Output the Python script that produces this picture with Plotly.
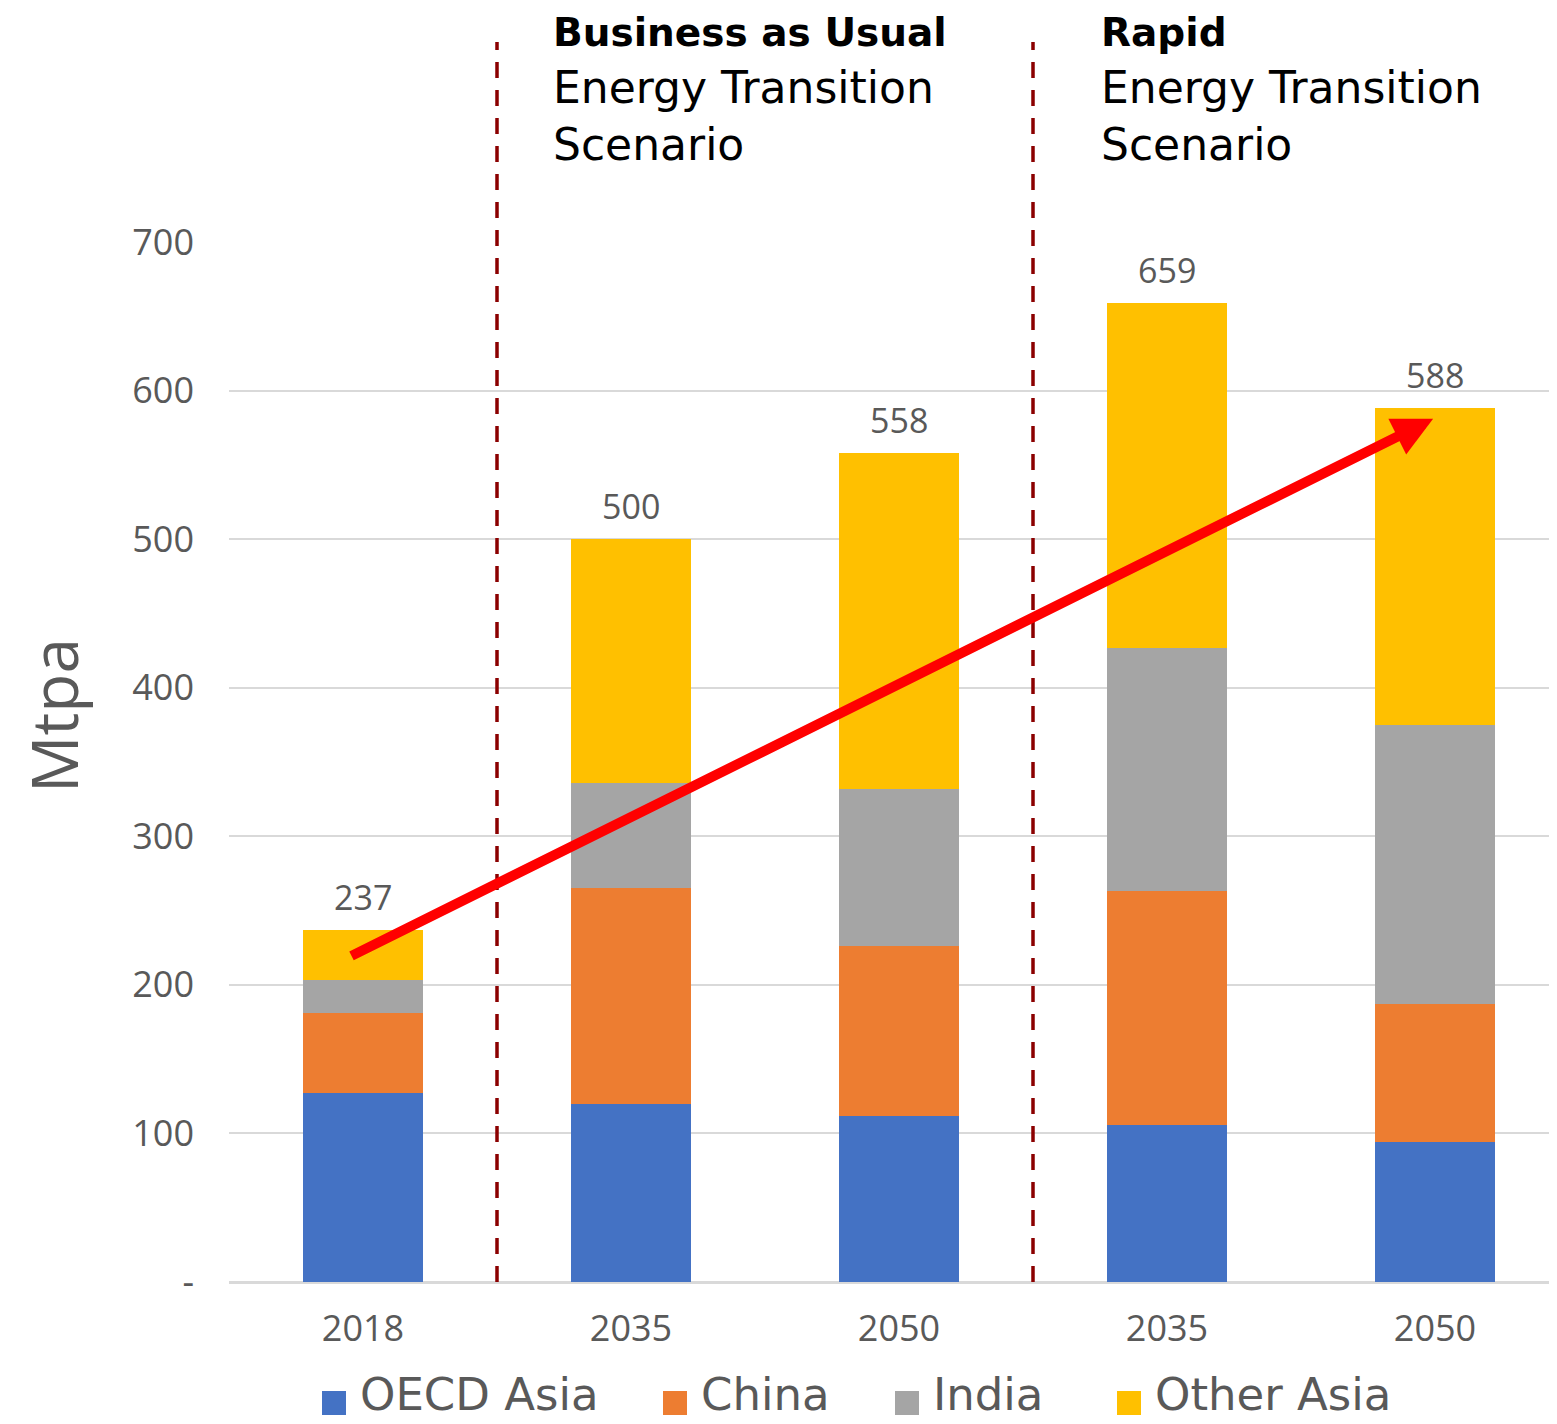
import plotly.graph_objects as go

# ---- data ----
categories = ["2018", "2035", "2050", "2035", "2050"]
oecd_asia = [127, 120, 112, 106, 94]
china = [54, 145, 114, 157, 93]
india = [22, 71, 106, 164, 188]
other_asia = [34, 164, 226, 232, 213]
totals = [237, 500, 558, 659, 588]
series_names = ["OECD Asia", "China", "India", "Other Asia"]
series_colors = ["#4472C4", "#ED7D31", "#A5A5A5", "#FFC000"]
y_ticks = [0, 100, 200, 300, 400, 500, 600, 700]
y_ticktext = ["-", "100", "200", "300", "400", "500", "600", "700"]

FONT = "Open Sans"
WIDE = "DejaVu Sans"
GREY = "#595959"

OFF = 8  # page body margin in the browser
W, H = 1557 - OFF, 1424 - OFF
ML, MR = 229 - OFF, 0
MT = 241 - OFF
MB = 142
PW = W - ML - MR
PH = H - MT - MB
YMAX = 700 + 700 / 1040.0  # 1 px headroom so the 700 gridline shows

def px_x(p):
    return (p - OFF - ML) / PW

def px_y(p):
    return (H - MB - (p - OFF)) / PH

xpos = list(range(len(categories)))

fig = go.Figure()
for name, vals, col in zip(series_names, [oecd_asia, china, india, other_asia], series_colors):
    fig.add_trace(go.Bar(
        x=xpos, y=vals, name=name, marker=dict(color=col, line=dict(width=0)),
        width=0.45, showlegend=False, hoverinfo="skip",
    ))

annotations = []
# total labels
for xi, t in zip(xpos, totals):
    annotations.append(dict(x=xi, y=t, xref="x", yref="y", text=str(t), showarrow=False,
                            yanchor="middle", yshift=33,
                            font=dict(family=FONT, size=34, color=GREY)))

# scenario titles
for x_px, bold in [(552, "Business as Usual"), (1100, "Rapid")]:
    txt = ('<span style="font-size:39px"><b>%s</b></span><br>Energy Transition<br>Scenario' % bold)
    annotations.append(dict(x=px_x(x_px), y=px_y(9), xref="paper", yref="paper",
                            text=txt, showarrow=False, xanchor="left", yanchor="top",
                            align="left", borderpad=0,
                            font=dict(family=WIDE, size=44, color="#000000")))

# y-axis title
annotations.append(dict(x=px_x(53), y=px_y(716), xref="paper", yref="paper", text="Mtpa",
                        textangle=-90, showarrow=False, xanchor="center", yanchor="middle",
                        borderpad=0,
                        font=dict(family=FONT, size=64, color=GREY)))

# trend arrow
annotations.append(dict(x=3.993, y=581, ax=-0.0485, ay=219, xref="x", yref="y",
                        axref="x", ayref="y", text="", showarrow=True, arrowhead=2,
                        arrowsize=0.8, arrowwidth=10, arrowcolor="#FF0000", standoff=0))

# manual legend
shapes = []
legend_x = [322, 663, 895, 1117]
for name, col, lx in zip(series_names, series_colors, legend_x):
    shapes.append(dict(type="rect", xref="paper", yref="paper",
                       x0=px_x(lx), x1=px_x(lx + 24), y0=px_y(1415), y1=px_y(1391),
                       fillcolor=col, line=dict(width=0)))
    annotations.append(dict(x=px_x(lx + 37), y=px_y(1394), xref="paper", yref="paper",
                            text=name, showarrow=False, xanchor="left", yanchor="middle",
                            borderpad=0,
                            font=dict(family=WIDE, size=45, color=GREY)))

# dashed separators
for xs in [0.5, 2.5]:
    shapes.append(dict(type="line", xref="x", yref="paper", x0=xs, x1=xs,
                       y0=0, y1=px_y(42), line=dict(color="#8B0000", width=3.5, dash="16px,12px")))

fig.update_layout(
    width=W, height=H,
    margin=dict(l=ML, r=MR, t=MT, b=MB, pad=0),
    plot_bgcolor="white", paper_bgcolor="white",
    barmode="stack",
    showlegend=False,
    annotations=annotations,
    shapes=shapes,
    font=dict(family=FONT, color=GREY),
)
fig.update_xaxes(
    range=[-0.5, -0.5 + PW / 268.0],
    tickvals=xpos, ticktext=categories,
    tickfont=dict(family=FONT, size=36, color=GREY),
    showgrid=False, zeroline=False, showline=False, ticks="",
    ticklabelstandoff=22,
)
fig.update_yaxes(
    range=[0, YMAX],
    tickvals=y_ticks, ticktext=y_ticktext,
    tickfont=dict(family=FONT, size=36, color=GREY),
    showgrid=True, gridcolor="#D9D9D9", gridwidth=2,
    zeroline=True, zerolinecolor="#D9D9D9", zerolinewidth=3,
    showline=False, ticks="", ticklabelstandoff=34,
)

fig.write_html("out.html")
